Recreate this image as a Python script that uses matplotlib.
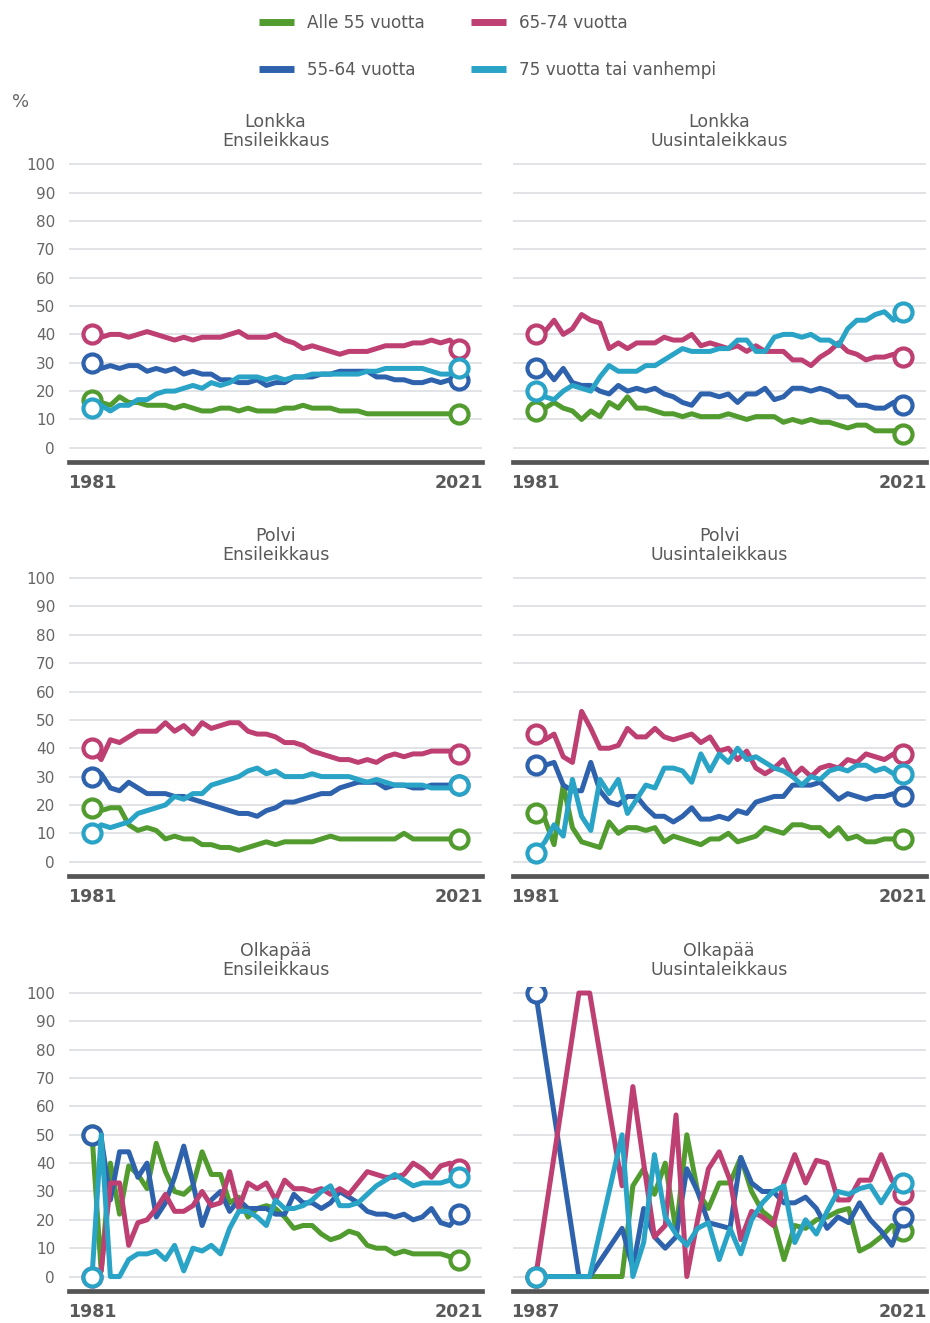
import matplotlib.pyplot as plt
from matplotlib.lines import Line2D

# --- data (percent of operations by age group) ---
years = list(range(1981, 2022))
years_olkapaa_uusinta = list(range(1987, 2022))

series_labels = ['Alle 55 vuotta', '55-64 vuotta', '65-74 vuotta', '75 vuotta tai vanhempi']
series_colors = ['#519b2f', '#2f62ad', '#be3f72', '#29a3c6']

panel_titles = ['Lonkka\nEnsileikkaus', 'Lonkka\nUusintaleikkaus',
                'Polvi\nEnsileikkaus', 'Polvi\nUusintaleikkaus',
                'Olkapää\nEnsileikkaus', 'Olkapää\nUusintaleikkaus']

lonkka_ensi_alle55 = [17, 16, 15, 18, 16, 16, 15, 15, 15, 14, 15, 14, 13, 13, 14, 14, 13, 14, 13, 13, 13,
                      14, 14, 15, 14, 14, 14, 13, 13, 13, 12, 12, 12, 12, 12, 12, 12, 12, 12, 12, 12]
lonkka_ensi_55_64 = [30, 28, 29, 28, 29, 29, 27, 28, 27, 28, 26, 27, 26, 26, 24, 24, 23, 23, 24, 22, 23,
                     23, 25, 25, 25, 26, 26, 27, 27, 27, 27, 25, 25, 24, 24, 23, 23, 24, 23, 24, 24]
lonkka_ensi_65_74 = [40, 39, 40, 40, 39, 40, 41, 40, 39, 38, 39, 38, 39, 39, 39, 40, 41, 39, 39, 39, 40,
                     38, 37, 35, 36, 35, 34, 33, 34, 34, 34, 35, 36, 36, 36, 37, 37, 38, 37, 38, 35]
lonkka_ensi_75 = [14, 15, 13, 15, 15, 17, 17, 19, 20, 20, 21, 22, 21, 23, 22, 23, 25, 25, 25, 24, 25,
                  24, 25, 25, 26, 26, 26, 26, 26, 26, 27, 27, 28, 28, 28, 28, 28, 27, 26, 26, 28]

lonkka_uusinta_alle55 = [13, 14, 16, 14, 13, 10, 13, 11, 16, 14, 18, 14, 14, 13, 12, 12, 11, 12, 11, 11, 11,
                         12, 11, 10, 11, 11, 11, 9, 10, 9, 10, 9, 9, 8, 7, 8, 8, 6, 6, 6, 5]
lonkka_uusinta_55_64 = [28, 28, 24, 28, 23, 22, 22, 20, 19, 22, 20, 21, 20, 21, 19, 18, 16, 15, 19, 19, 18,
                        19, 16, 19, 19, 21, 17, 18, 21, 21, 20, 21, 20, 18, 18, 15, 15, 14, 14, 16, 15]
lonkka_uusinta_65_74 = [40, 41, 45, 40, 42, 47, 45, 44, 35, 37, 35, 37, 37, 37, 39, 38, 38, 40, 36, 37, 36,
                        35, 36, 34, 36, 34, 34, 34, 31, 31, 29, 32, 34, 37, 34, 33, 31, 32, 32, 33, 32]
lonkka_uusinta_75 = [20, 18, 17, 20, 22, 21, 20, 25, 29, 27, 27, 27, 29, 29, 31, 33, 35, 34, 34, 34, 35,
                     35, 38, 38, 34, 34, 39, 40, 40, 39, 40, 38, 38, 36, 42, 45, 45, 47, 48, 45, 48]

polvi_ensi_alle55 = [19, 18, 19, 19, 13, 11, 12, 11, 8, 9, 8, 8, 6, 6, 5, 5, 4, 5, 6, 7, 6,
                     7, 7, 7, 7, 8, 9, 8, 8, 8, 8, 8, 8, 8, 10, 8, 8, 8, 8, 8, 8]
polvi_ensi_55_64 = [30, 31, 26, 25, 28, 26, 24, 24, 24, 23, 23, 22, 21, 20, 19, 18, 17, 17, 16, 18, 19,
                    21, 21, 22, 23, 24, 24, 26, 27, 28, 28, 28, 26, 27, 27, 26, 26, 27, 27, 27, 27]
polvi_ensi_65_74 = [40, 36, 43, 42, 44, 46, 46, 46, 49, 46, 48, 45, 49, 47, 48, 49, 49, 46, 45, 45, 44,
                    42, 42, 41, 39, 38, 37, 36, 36, 35, 36, 35, 37, 38, 37, 38, 38, 39, 39, 39, 38]
polvi_ensi_75 = [10, 13, 12, 13, 14, 17, 18, 19, 20, 23, 22, 24, 24, 27, 28, 29, 30, 32, 33, 31, 32,
                 30, 30, 30, 31, 30, 30, 30, 30, 29, 28, 29, 28, 27, 27, 27, 27, 26, 26, 26, 27]

polvi_uusinta_alle55 = [17, 15, 6, 27, 12, 7, 6, 5, 14, 10, 12, 12, 11, 12, 7, 9, 8, 7, 6, 8, 8,
                        10, 7, 8, 9, 12, 11, 10, 13, 13, 12, 12, 9, 12, 8, 9, 7, 7, 8, 8, 8]
polvi_uusinta_55_64 = [34, 34, 35, 27, 25, 25, 35, 25, 21, 20, 23, 23, 19, 16, 16, 14, 16, 19, 15, 15, 16,
                       15, 18, 17, 21, 22, 23, 23, 27, 27, 27, 28, 25, 22, 24, 23, 22, 23, 23, 24, 23]
polvi_uusinta_65_74 = [45, 43, 45, 37, 35, 53, 47, 40, 40, 41, 47, 44, 44, 47, 44, 43, 44, 45, 42, 44, 39,
                       40, 36, 39, 33, 31, 33, 36, 30, 33, 30, 33, 34, 33, 36, 35, 38, 37, 36, 38, 38]
polvi_uusinta_75 = [3, 7, 13, 9, 29, 16, 11, 29, 24, 29, 17, 22, 27, 26, 33, 33, 32, 28, 38, 32, 38,
                    35, 40, 36, 37, 35, 33, 32, 30, 27, 30, 29, 32, 33, 32, 34, 34, 32, 33, 31, 31]

olkapaa_ensi_alle55 = [50, 2, 40, 22, 39, 36, 31, 47, 37, 30, 29, 32, 44, 36, 36, 26, 28, 21, 24, 25, 24,
                       21, 17, 18, 18, 15, 13, 14, 16, 15, 11, 10, 10, 8, 9, 8, 8, 8, 8, 7, 6]
olkapaa_ensi_55_64 = [50, 49, 27, 44, 44, 35, 40, 21, 26, 35, 46, 33, 18, 27, 30, 23, 27, 24, 24, 24, 22,
                      22, 29, 26, 26, 24, 26, 30, 28, 26, 23, 22, 22, 21, 22, 20, 21, 24, 19, 18, 22]
olkapaa_ensi_65_74 = [0, 2, 33, 33, 11, 19, 20, 24, 29, 23, 23, 25, 30, 25, 26, 37, 24, 33, 31, 33, 27,
                      34, 31, 31, 30, 31, 29, 31, 29, 33, 37, 36, 35, 35, 36, 40, 38, 35, 39, 40, 38]
olkapaa_ensi_75 = [0, 50, 0, 0, 6, 8, 8, 9, 6, 11, 2, 10, 9, 11, 8, 17, 23, 23, 21, 18, 27,
                   24, 24, 25, 27, 30, 32, 25, 25, 26, 29, 32, 34, 36, 34, 32, 33, 33, 33, 34, 35]

# None = no operations that year (line is drawn straight across the gap)
olkapaa_uusinta_alle55 = [0, None, None, None, 0, 0, None, None, 0, 32, 38, 29, 40, 16, 50, 30, 24, 33,
                          33, 42, 30, 23, 20, 6, 18, 17, 20, 21, 23, 24, 9, 11, 14, 18, 16]
olkapaa_uusinta_55_64 = [100, None, None, None, 0, 0, None, None, 17, 3, 24, 14, 10, 14, 38, 30, 19, 18,
                         17, 42, 33, 30, 30, 26, 26, 28, 24, 17, 21, 19, 26, 20, 16, 11, 21]
olkapaa_uusinta_65_74 = [0, None, None, None, 100, 100, None, None, 32, 67, 40, 14, 18, 57, 0, 20, 38, 44,
                         34, 13, 23, 21, 18, 33, 43, 33, 41, 40, 27, 27, 34, 34, 43, 34, 29]
olkapaa_uusinta_75 = [0, None, None, None, 0, 0, None, None, 50, 0, 12, 43, 21, 15, 11, 17, 19, 6,
                      17, 8, 20, 26, 30, 32, 12, 20, 15, 23, 30, 29, 31, 32, 26, 32, 33]

panels = [
    (years, [lonkka_ensi_alle55, lonkka_ensi_55_64, lonkka_ensi_65_74, lonkka_ensi_75]),
    (years, [lonkka_uusinta_alle55, lonkka_uusinta_55_64, lonkka_uusinta_65_74, lonkka_uusinta_75]),
    (years, [polvi_ensi_alle55, polvi_ensi_55_64, polvi_ensi_65_74, polvi_ensi_75]),
    (years, [polvi_uusinta_alle55, polvi_uusinta_55_64, polvi_uusinta_65_74, polvi_uusinta_75]),
    (years, [olkapaa_ensi_alle55, olkapaa_ensi_55_64, olkapaa_ensi_65_74, olkapaa_ensi_75]),
    (years_olkapaa_uusinta, [olkapaa_uusinta_alle55, olkapaa_uusinta_55_64,
                             olkapaa_uusinta_65_74, olkapaa_uusinta_75]),
]

# --- figure ---
text_grey = '#595959'
fig = plt.figure(figsize=(9.3, 13.23), dpi=100)

col_left = [0.0742, 0.5513]
row_bottom = [0.6508, 0.3380, 0.0244]
ax_w, ax_h = 0.4441, 0.2293

for i, (xs, series) in enumerate(panels):
    row, col = divmod(i, 2)
    ax = fig.add_axes([col_left[col], row_bottom[row], ax_w, ax_h])

    for vals, color in zip(series, series_colors):
        pts = [(x, v) for x, v in zip(xs, vals) if v is not None]
        px = [p[0] for p in pts]
        py = [p[1] for p in pts]
        ax.plot(px, py, color=color, lw=3.6, solid_joinstyle='round', solid_capstyle='round',
                marker='o', markevery=[0, len(px) - 1], markersize=13, markerfacecolor='white',
                markeredgecolor=color, markeredgewidth=3, zorder=3)

    # axis limits: a little room around first/last year
    span = xs[-1] - xs[0]
    ax.set_xlim(xs[0] - span * 0.0627, xs[-1] + span * 0.0627)
    ax.set_ylim(-5, 102)

    ax.set_yticks(range(0, 101, 10))
    ax.grid(axis='y', color='#dcdee2', lw=1.2, zorder=0)
    ax.set_xticks([xs[0], xs[-1]])
    ax.set_xticklabels([str(xs[0]), str(xs[-1])], fontsize=12.5, fontweight='bold', color=text_grey)
    ax.tick_params(axis='x', length=0, pad=9)
    ax.tick_params(axis='y', length=0, pad=10, labelsize=11, labelcolor='#666666')
    if col == 1:
        ax.tick_params(axis='y', labelleft=False)

    for side in ['top', 'right', 'left']:
        ax.spines[side].set_visible(False)
    ax.spines['bottom'].set_color('#555555')
    ax.spines['bottom'].set_linewidth(3.4)

    ax.set_title(panel_titles[i], fontsize=12.5, color=text_grey, pad=9, linespacing=1.05)

fig.text(12 / 930, 1 - 102 / 1323, '%', fontsize=13, color='#666666', va='center', ha='left')

handles = [Line2D([], [], color=c, lw=5, solid_capstyle='butt') for c in series_colors]
fig.legend(handles, series_labels, ncol=2, loc='center', bbox_to_anchor=(0.5242, 1 - 46.5 / 1323),
           frameon=False, fontsize=12.2, labelcolor=text_grey, handlelength=2.05,
           handletextpad=0.76, columnspacing=2.75, labelspacing=1.72)

fig.savefig('out.png', dpi=100)
